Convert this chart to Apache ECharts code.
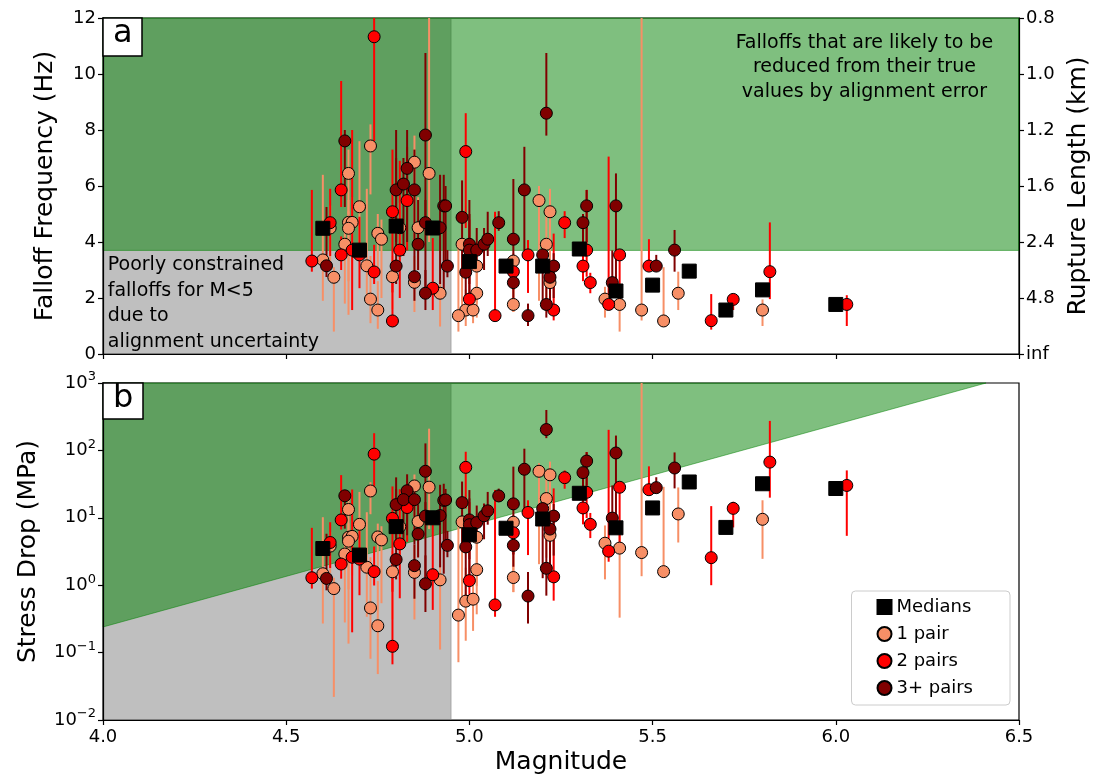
<!DOCTYPE html>
<html><head><meta charset="utf-8">
<script src="https://cdn.jsdelivr.net/npm/echarts@6/dist/echarts.min.js"></script>
<style>html,body{margin:0;padding:0;background:#fff}#c{width:1094px;height:776px}</style>
</head><body><div id="c"></div>
<script>
// ---------- DATA ----------
const magTicks = [4.0, 4.5, 5.0, 5.5, 6.0, 6.5];
const ruptureLabels = ['inf', '4.8', '2.4', '1.6', '1.2', '1.0', '0.8']; // at falloff 0,2,...,12
const legendNames = ['Medians', '1 pair', '2 pairs', '3+ pairs'];

// Region limits (data space)
const alignLimitMag = 4.95;
const fcLimit = 3.7;
const sdBoundary = [[4.0, 0.24], [6.41, 1000]];

// Panel a: [magnitude, falloff Hz, low, high]
const onePairA = [
[4.73,7.43,5.7,8.2],[4.67,6.45,5.0,7.3],[4.70,5.26,3.96,7.6],[4.62,4.5,3.3,5.3],[4.67,4.70,2.6,5.5],
[4.68,4.70,3.0,5.6],[4.67,4.49,1.4,5.1],[4.75,4.31,2.9,5.0],[4.76,4.10,2.0,4.8],[4.66,3.92,1.8,4.6],
[4.60,3.36,1.9,6.4],[4.63,2.74,0.8,3.1],[4.72,3.15,1.8,5.9],[4.73,1.96,1.1,3.5],[4.75,1.57,0.9,2.6],
[4.79,2.76,1.6,3.5],[4.85,6.85,3.9,7.8],[4.89,6.45,4.0,12.5],[4.86,4.51,3.0,5.6],[4.81,4.51,3.2,5.4],
[4.85,2.56,1.5,3.5],[4.92,2.17,0.98,2.6],[4.98,3.92,1.5,4.8],[5.02,3.14,1.8,4.0],[5.02,2.17,1.3,3.0],
[4.99,1.57,1.0,2.3],[5.01,1.57,1.1,2.3],[4.97,1.37,0.8,3.9],[5.19,5.48,1.9,6.0],[5.22,5.08,1.8,5.9],
[5.21,3.92,2.0,5.0],[5.12,3.32,1.5,3.6],[5.22,2.55,1.5,3.9],[5.12,1.77,1.5,2.3],[5.37,1.96,1.3,2.4],
[5.41,1.77,0.8,2.2],[5.47,1.57,1.2,12.5],[5.53,1.18,1.1,3.1],[5.57,2.17,1.57,2.94],[5.80,1.57,1.0,1.95]
];
const twoPairsA = [
[4.74,11.33,7.6,14.2],[4.65,5.86,5.25,9.75],[4.62,4.69,3.5,5.9],[4.68,3.71,1.57,8.0],[4.70,3.54,2.35,4.9],
[4.65,3.54,3.0,4.2],[4.57,3.32,2.94,5.86],[4.74,2.93,2.5,3.9],[4.79,5.08,2.2,7.3],[4.79,1.18,0.96,3.0],
[4.83,5.48,3.7,7.4],[4.81,3.71,2.0,6.9],[4.90,2.35,1.57,4.14],[4.99,7.23,4.5,8.6],[5.00,1.96,1.5,4.8],
[5.26,4.69,4.14,5.1],[5.16,3.54,2.18,4.07],[5.12,2.94,2.3,3.4],[5.23,1.57,1.2,4.3],[5.07,1.37,1.2,5.08],
[5.32,3.71,2.76,5.86],[5.41,3.54,1.8,3.7],[5.31,3.14,2.6,3.6],[5.49,3.14,3.0,4.1],[5.33,2.55,2.17,2.9],
[5.38,1.77,1.57,7.05],[5.66,1.19,0.87,2.14],[5.72,1.95,1.57,2.1],[5.82,2.94,1.96,4.7],[6.03,1.77,1.0,2.1]
];
const threePlusA = [
[4.66,7.61,5.25,8.0],[4.61,3.15,2.75,5.25],[4.80,5.86,4.0,8.0],[4.88,7.82,4.8,10.75],[4.83,6.63,4.0,8.0],
[4.82,6.07,3.5,7.0],[4.85,5.86,3.5,7.3],[4.93,5.29,2.3,6.4],[4.935,5.29,3.2,6.0],[4.88,4.69,2.0,5.5],
[4.92,4.51,2.5,6.4],[4.86,3.92,3.0,5.5],[4.80,3.14,2.5,7.0],[4.85,2.76,1.9,3.5],[4.94,3.14,2.74,3.71],
[4.88,2.17,1.57,3.0],[4.98,4.88,3.0,6.2],[5.00,3.92,2.5,5.5],[5.00,3.71,2.0,5.0],[5.02,3.71,3.0,4.5],
[5.04,3.92,3.0,4.5],[4.99,2.92,1.5,3.9],[5.21,8.6,7.8,10.75],[5.15,5.86,3.7,7.4],[5.08,4.69,4.4,5.1],
[5.05,4.1,3.5,5.08],[5.12,4.1,2.3,6.25],[5.20,3.54,1.6,3.8],[5.23,3.14,2.0,3.6],[5.22,2.74,1.5,3.2],
[5.12,2.55,2.0,3.0],[5.21,1.77,1.3,3.0],[5.16,1.37,1.0,1.8],[5.32,5.29,4.0,5.86],[5.40,5.29,2.4,6.45],
[5.31,4.69,3.5,5.0],[5.51,3.14,3.0,3.54],[5.39,2.55,2.2,3.7],[5.56,3.71,2.94,4.43]
];
const mediansA = [[4.6,4.49],[4.7,3.71],[4.8,4.57],[4.9,4.5],[5.0,3.3],[5.1,3.14],[5.2,3.14],[5.3,3.75],
[5.4,2.25],[5.5,2.46],[5.6,2.96],[5.7,1.57],[5.8,2.29],[6.0,1.77]];

// Panel b: [magnitude, stress drop MPa, low, high]
const onePairB = [
[4.73,25,11.3,33.7],[4.67,13.3,6.2,19.3],[4.70,8.0,3.4,24.2],[4.62,3.8,1.5,6.2],[4.67,5.15,0.87,8.3],
[4.68,5.3,1.39,9.0],[4.67,4.5,0.136,6.6],[4.75,5.2,1.6,8.2],[4.76,4.7,0.54,7.5],[4.66,2.9,0.28,4.7],
[4.60,1.48,0.27,10.2],[4.63,0.89,0.022,1.29],[4.72,1.85,0.34,12.1],[4.73,0.46,0.081,2.6],[4.75,0.25,0.048,1.15],
[4.79,1.58,0.31,3.2],[4.85,29.7,5.5,43.9],[4.89,28.5,6.8,210],[4.86,8.8,2.6,16.8],[4.81,7.4,2.6,12.7],
[4.85,1.55,0.31,4.0],[4.92,1.2,0.111,2.07],[4.98,8.7,0.49,16.0],[5.02,5.15,0.97,10.6],[5.02,1.7,0.37,4.5],
[4.99,0.58,0.15,1.82],[5.01,0.62,0.21,1.95],[4.97,0.36,0.072,8.3],[5.19,49,2.05,64.6],[5.22,43.4,1.94,68.2],
[5.21,19.3,2.56,40.1],[5.12,8.6,0.79,11.0],[5.22,5.5,1.12,19.7],[5.12,1.3,0.79,2.86],[5.37,4.2,1.22,7.7],
[5.41,3.55,0.33,6.8],[5.47,3.05,1.36,1500],[5.53,1.59,1.29,28.8],[5.57,11.4,4.3,28.2],[5.80,9.5,2.46,18.2]
];
const twoPairsB = [
[4.74,88,28,180],[4.65,9.3,6.7,43],[4.62,4.3,1.8,8.6],[4.68,2.6,0.2,26.3],[4.70,2.44,0.71,6.5],
[4.65,2.06,1.25,3.4],[4.57,1.29,0.89,7.1],[4.74,1.59,0.99,3.75],[4.79,9.8,0.8,29.2],[4.79,0.124,0.067,2.03],
[4.83,14.2,4.4,35],[4.81,4.1,0.64,26.5],[4.90,1.43,0.43,7.8],[4.99,56,13.7,95.5],[5.00,1.17,0.52,17.1],
[5.26,39.4,27,50.5],[5.16,12,2.8,18.2],[5.12,6.0,2.86,9.2],[5.23,1.33,0.59,27.3],[5.07,0.51,0.34,25.9],
[5.32,23.9,9.9,94.4],[5.41,28.4,3.7,32.4],[5.31,14.0,8.0,21.1],[5.49,26.1,22.7,58],[5.33,8.0,5.0,11.8],
[5.38,3.2,2.23,202],[5.66,2.56,1.0,14.9],[5.72,13.8,7.2,17.3],[5.82,67,19.9,274],[6.03,30.2,5.4,50.5]
];
const threePlusB = [
[4.66,21.2,6.9,24.5],[4.61,1.26,0.84,5.8],[4.80,15.7,5.0,39.8],[4.88,49,11.3,127],[4.83,25.2,5.5,44.2],
[4.82,18.6,3.6,28.6],[4.85,18.6,4.0,36],[4.93,18.1,1.48,32],[4.935,18.4,4.1,26.8],[4.88,10.6,0.82,17.1],
[4.92,10.8,1.84,30.9],[4.86,5.75,2.58,15.9],[4.80,2.4,1.22,26.7],[4.85,1.95,0.63,4.0],[4.94,3.9,2.6,6.4],
[4.88,1.05,0.4,2.77],[4.98,16.8,3.9,34.5],[5.00,9.3,2.43,25.8],[5.00,7.9,1.24,19.4],[5.02,8.5,4.5,15.2],
[5.04,10.7,4.8,16.3],[4.99,3.7,0.51,8.9],[5.21,204,152,398],[5.15,52.5,13.2,106],[5.08,21.1,17.4,27.1],
[5.05,12.7,7.9,24.2],[5.12,16.1,2.86,57.4],[5.20,13.7,1.27,17],[5.23,10.6,2.75,16],[5.22,6.8,1.12,10.9],
[5.12,3.9,1.88,6.3],[5.21,1.78,0.7,8.6],[5.16,0.69,0.27,1.57],[5.32,69.5,30,94.4],[5.40,91.6,8.55,166],
[5.31,46.8,19.4,56.6],[5.51,28,24.4,40],[5.39,9.9,6.35,30.2],[5.56,54.8,27.3,93.3]
];
const mediansB = [[4.6,3.5],[4.7,2.8],[4.8,7.4],[4.9,10.0],[5.0,5.6],[5.1,7.0],[5.2,9.6],[5.3,23.1],
[5.4,7.1],[5.5,14],[5.6,34],[5.7,7.2],[5.8,32],[6.0,27.2]];

// ---------- STYLE ----------
const FONT = 'DejaVu Sans';
const C1 = '#f78f66', C2 = '#ff0000', C3 = '#800000';
const GRAY = 'rgba(128,128,128,0.5)', GREEN = 'rgba(0,128,0,0.5)';

const chart = echarts.init(document.getElementById('c'), null, {renderer: 'canvas'});

function polySeries(verts, fill, xi, yi) {
  return {
    type: 'custom', xAxisIndex: xi, yAxisIndex: yi, silent: true, z: 0,
    data: [verts[0]],
    renderItem: (params, api) => ({
      type: 'polygon',
      shape: {points: verts.map(v => api.coord(v))},
      style: {fill: fill, stroke: fill, lineWidth: 1}
    })
  };
}
function errSeries(name, data, color, xi, yi, ymin, ymax) {
  return {
    type: 'custom', name: name, xAxisIndex: xi, yAxisIndex: yi, silent: true, z: 2, clip: true,
    data: data,
    encode: {x: 0, y: [2, 3]},
    renderItem: (params, api) => {
      const x = api.value(0);
      const lo = Math.max(api.value(2), ymin), hi = Math.min(api.value(3), ymax);
      const p1 = api.coord([x, lo]), p2 = api.coord([x, hi]);
      return {type: 'line', shape: {x1: p1[0], y1: p1[1], x2: p2[0], y2: p2[1]},
              style: {stroke: color, lineWidth: 2}};
    }
  };
}
function ptSeries(name, data, color, xi, yi, symbol, size, z) {
  return {
    type: 'scatter', name: name, xAxisIndex: xi, yAxisIndex: yi, z: z,
    symbol: symbol, symbolSize: size,
    data: data.map(d => [d[0], d[1]]),
    itemStyle: {color: color, borderColor: '#000', borderWidth: 1, opacity: 1},
    emphasis: {disabled: true}
  };
}

const supMinus = s => s.replace('-', '\u2212');
const xAxisBase = {
  type: 'value', min: magTicks[0], max: magTicks[magTicks.length - 1], interval: 0.5,
  splitLine: {show: false},
  axisLine: {show: true, onZero: false, lineStyle: {color: '#000', width: 1.2}},
  axisTick: {show: true, length: 5, lineStyle: {color: '#000', width: 1.2}},
};

const option = {
  animation: false,
  backgroundColor: '#fff',
  textStyle: {fontFamily: FONT},
  title: [
    {text: 'a', left: 103, top: 18, backgroundColor: '#fff', borderColor: '#000', borderWidth: 1.5,
     padding: [0, 10, 6, 10], textStyle: {fontSize: 32, fontWeight: 'normal', fontFamily: FONT, color: '#000'}},
    {text: 'b', left: 103, top: 383, backgroundColor: '#fff', borderColor: '#000', borderWidth: 1.5,
     padding: [0, 10, 4, 10], textStyle: {fontSize: 32, fontWeight: 'normal', fontFamily: FONT, color: '#000'}}
  ],
  grid: [
    {left: 103, top: 18, width: 916, height: 336, show: true, borderColor: '#000', borderWidth: 1.2,
     backgroundColor: 'transparent', containLabel: false, outerBoundsMode: 'none'},
    {left: 103, top: 383, width: 916, height: 337, show: true, borderColor: '#000', borderWidth: 1.2,
     backgroundColor: 'transparent', containLabel: false, outerBoundsMode: 'none'}
  ],
  legend: {
    data: legendNames, orient: 'vertical', right: 84, bottom: 71,
    itemWidth: 14, itemHeight: 14, itemGap: 7,
    padding: [6, 37, 7, 25],
    borderColor: '#cccccc', borderWidth: 1, borderRadius: 4,
    backgroundColor: 'rgba(255,255,255,0.85)',
    textStyle: {fontSize: 18, fontFamily: FONT, color: '#000', lineHeight: 20},
    selectedMode: false
  },
  xAxis: [
    Object.assign({}, xAxisBase, {gridIndex: 0, axisLabel: {show: false}}),
    Object.assign({}, xAxisBase, {gridIndex: 1,
      name: 'Magnitude', nameLocation: 'middle', nameGap: 30,
      nameTextStyle: {fontSize: 25, fontFamily: FONT, color: '#000'},
      axisLabel: {fontSize: 18, color: '#000', margin: 8, formatter: v => v.toFixed(1)}})
  ],
  yAxis: [
    {gridIndex: 0, type: 'value', min: 0, max: 12, interval: 2, position: 'left',
     name: 'Falloff Frequency (Hz)', nameLocation: 'middle', nameGap: 45, nameRotate: 90,
     nameTextStyle: {fontSize: 25, fontFamily: FONT, color: '#000'},
     splitLine: {show: false},
     axisLine: {show: true, lineStyle: {color: '#000', width: 1.2}},
     axisTick: {show: true, length: 5, lineStyle: {color: '#000', width: 1.2}},
     axisLabel: {fontSize: 18, color: '#000', margin: 7}},
    {gridIndex: 0, type: 'value', min: 0, max: 12, interval: 2, position: 'right',
     name: 'Rupture Length (km)', nameLocation: 'middle', nameGap: 47, nameRotate: 90,
     nameTextStyle: {fontSize: 25, fontFamily: FONT, color: '#000'},
     splitLine: {show: false},
     axisLine: {show: true, lineStyle: {color: '#000', width: 1.2}},
     axisTick: {show: true, length: 5, lineStyle: {color: '#000', width: 1.2}},
     axisLabel: {fontSize: 18, color: '#000', margin: 7, formatter: v => ruptureLabels[Math.round(v / 2)]}},
    {gridIndex: 1, type: 'log', logBase: 10, min: 0.01, max: 1000, position: 'left',
     name: 'Stress Drop (MPa)', nameLocation: 'middle', nameGap: 62, nameRotate: 90,
     nameTextStyle: {fontSize: 25, fontFamily: FONT, color: '#000'},
     splitLine: {show: false},
     axisLine: {show: true, lineStyle: {color: '#000', width: 1.2}},
     axisTick: {show: true, length: 5, lineStyle: {color: '#000', width: 1.2}},
     axisLabel: {color: '#000', margin: 7,
       formatter: v => '{b|10}{e|' + supMinus(String(Math.round(Math.log10(v)))) + '}',
       rich: {b: {fontSize: 18, fontFamily: FONT, color: '#000'},
              e: {fontSize: 13, fontFamily: FONT, color: '#000', padding: [0, 0, 12, 0]}}}}
  ],
  series: [
    // shading panel a
    polySeries([[4, 0], [alignLimitMag, 0], [alignLimitMag, 12], [4, 12]], GRAY, 0, 0),
    polySeries([[4, fcLimit], [6.5, fcLimit], [6.5, 12], [4, 12]], GREEN, 0, 0),
    // shading panel b
    polySeries([[4, 0.01], [alignLimitMag, 0.01], [alignLimitMag, 1000], [4, 1000]], GRAY, 1, 2),
    polySeries([sdBoundary[0], sdBoundary[1], [4, 1000]], GREEN, 1, 2),
    // panel a
    errSeries('e1a', onePairA, C1, 0, 0, 0, 12),
    ptSeries('1 pair', onePairA, C1, 0, 0, 'circle', 12, 3),
    errSeries('e2a', twoPairsA, C2, 0, 0, 0, 12),
    ptSeries('2 pairs', twoPairsA, C2, 0, 0, 'circle', 12, 3),
    errSeries('e3a', threePlusA, C3, 0, 0, 0, 12),
    ptSeries('3+ pairs', threePlusA, C3, 0, 0, 'circle', 12, 3),
    ptSeries('Medians', mediansA, '#000', 0, 0, 'rect', 14, 4),
    // panel b
    errSeries('e1b', onePairB, C1, 1, 2, 0.01, 1000),
    ptSeries('1 pair', onePairB, C1, 1, 2, 'circle', 12, 3),
    errSeries('e2b', twoPairsB, C2, 1, 2, 0.01, 1000),
    ptSeries('2 pairs', twoPairsB, C2, 1, 2, 'circle', 12, 3),
    errSeries('e3b', threePlusB, C3, 1, 2, 0.01, 1000),
    ptSeries('3+ pairs', threePlusB, C3, 1, 2, 'circle', 12, 3),
    ptSeries('Medians', mediansB, '#000', 1, 2, 'rect', 14, 4)
  ]
};
chart.setOption(option);

// annotations placed in data coordinates
const pTop = chart.convertToPixel({xAxisIndex: 0, yAxisIndex: 0}, [6.078, 11.55]);
const pLow = chart.convertToPixel({xAxisIndex: 0, yAxisIndex: 0}, [4.013, 3.62]);
chart.setOption({
  graphic: [
    {type: 'text', x: pTop[0], y: pTop[1], z: 100,
     style: {text: 'Falloffs that are likely to be\nreduced from their true\nvalues by alignment error',
             align: 'center', verticalAlign: 'top', fontSize: 19, fontFamily: FONT, lineHeight: 24.5, fill: '#000'}},
    {type: 'text', x: pLow[0], y: pLow[1], z: 100,
     style: {text: 'Poorly constrained\nfalloffs for M<5\ndue to\nalignment uncertainty',
             align: 'left', verticalAlign: 'top', fontSize: 19, fontFamily: FONT, lineHeight: 25.5, fill: '#000'}}
  ]
});
</script>
</body></html>
